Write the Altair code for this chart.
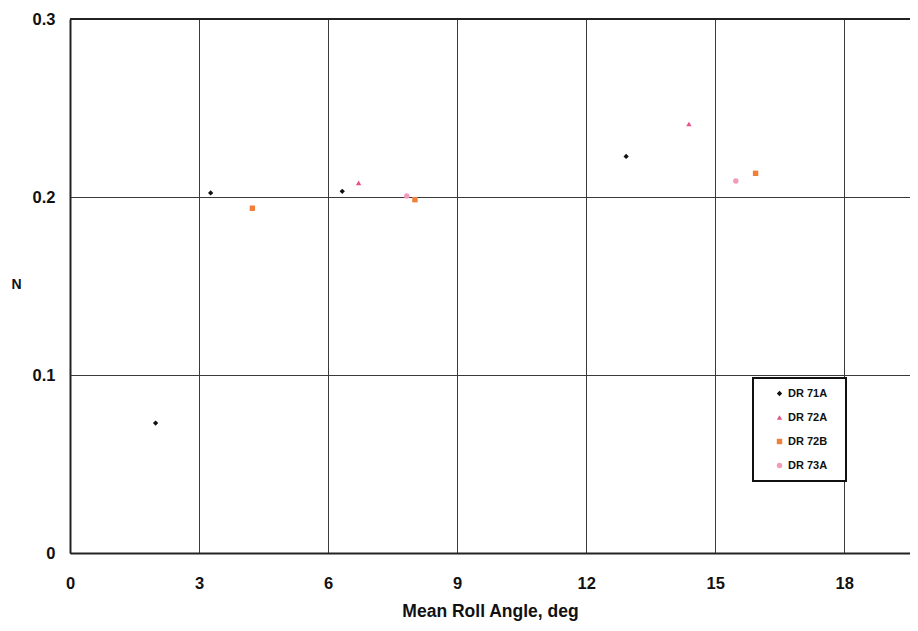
import altair as alt
import pandas as pd

# ---- data ----
series_names = ["DR 71A", "DR 72A", "DR 72B", "DR 73A"]

dr71a_x = [1.99, 3.27, 6.33, 12.93]
dr71a_y = [0.073, 0.2023, 0.2032, 0.2228]

dr72a_x = [6.71, 14.39]
dr72a_y = [0.2079, 0.241]

dr72b_x = [4.24, 8.02, 15.94]
dr72b_y = [0.1937, 0.1985, 0.2133]

dr73a_x = [7.83, 15.48]
dr73a_y = [0.2006, 0.209]

x_ticks = [0, 3, 6, 9, 12, 15, 18]
y_ticks = [0, 0.1, 0.2, 0.3]

colors = ["#111111", "#e8508a", "#f07f3a", "#f39bbd"]
shapes = ["diamond", "triangle-up", "square", "circle"]
sizes = [28, 30, 24, 8]

rows = []
for name, xs, ys in zip(series_names,
                        [dr71a_x, dr72a_x, dr72b_x, dr73a_x],
                        [dr71a_y, dr72a_y, dr72b_y, dr73a_y]):
    for xv, yv in zip(xs, ys):
        rows.append({"series": name, "roll": xv, "N": yv})
df = pd.DataFrame(rows)

W = 840
H = 534
FONT = "Liberation Sans"

points = alt.Chart(df).mark_point(filled=True, opacity=1).encode(
    x=alt.X("roll:Q", scale=alt.Scale(domain=[0, 19.53], nice=False, zero=False),
            axis=alt.Axis(values=x_ticks, title="Mean Roll Angle, deg", grid=True,
                          ticks=False, labelFlush=False, labelPadding=22, titlePadding=11,
                          labelFontSize=16.5, titleFontSize=17.5)),
    y=alt.Y("N:Q", scale=alt.Scale(domain=[0, 0.3], nice=False),
            axis=alt.Axis(values=y_ticks, format=".1~f", title="N", grid=True,
                          ticks=False, labelFlush=False, labelPadding=15, labelFontSize=16.5,
                          titleFontSize=14, titleAngle=0, titleAlign="center",
                          titleBaseline="middle", titleX=-54, titleY=265)),
    color=alt.Color("series:N", scale=alt.Scale(domain=series_names, range=colors),
                    legend=alt.Legend(title=None, orient="none", legendX=683, legendY=359,
                                      strokeColor="#111111", fillColor="white",
                                      padding=10, rowPadding=12, symbolOffset=11,
                                      labelOffset=3,
                                      labelFontSize=11, labelFont=FONT, labelFontWeight="bold",
                                      labelExpr="datum.label + '\u2800'")),
    shape=alt.Shape("series:N", scale=alt.Scale(domain=series_names, range=shapes)),
    size=alt.Size("series:N", scale=alt.Scale(domain=series_names, range=sizes), legend=None),
)

top_line = alt.Chart(df).mark_rule(color="#222222", strokeWidth=2).encode(
    x=alt.value(0), x2=alt.value(W), y=alt.value(0)
)

chart = alt.layer(points, top_line).properties(
    width=W, height=H,
    autosize=alt.AutoSizeParams(type="none"),
    padding={"left": 62, "top": 11, "right": 0, "bottom": 70},
).configure_view(stroke=None).configure_axis(
    labelFont=FONT, titleFont=FONT, labelFontWeight="bold", titleFontWeight="bold",
    labelColor="#111111", titleColor="#111111",
    gridColor="#3a3a3a", gridWidth=1, gridOpacity=1,
    domainColor="#222222", domainWidth=2,
).configure_legend(
    strokeWidth=2, symbolStrokeWidth=0, labelColor="#111111"
)

chart.save("out.html", embed_options={"renderer": "svg", "actions": False})
